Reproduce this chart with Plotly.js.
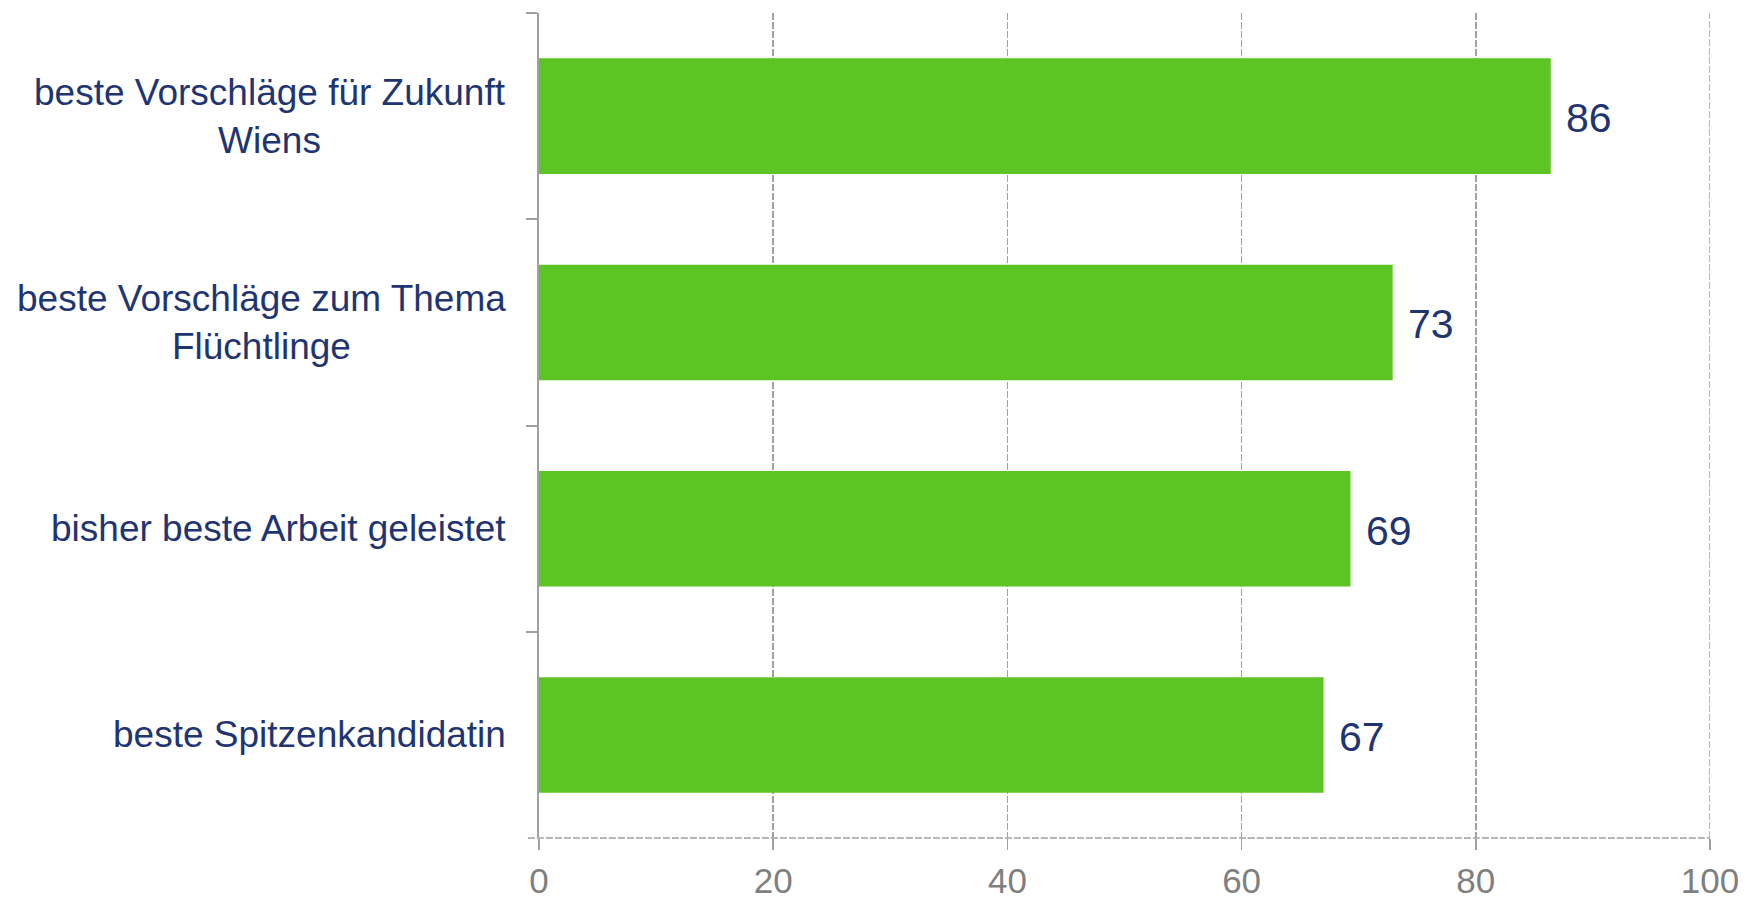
<!DOCTYPE html>
<html>
<head>
<meta charset="utf-8">
<script src="https://cdn.plot.ly/plotly-3.0.1.min.js"></script>
<style>html,body{margin:0;padding:0;background:#fff;}#chart{width:1759px;height:900px;}</style>
</head>
<body>
<div id="chart"></div>
<script>
// Categories, top to bottom
const categories = [
  "beste Vorschläge für Zukunft<br>Wiens",
  "beste Vorschläge zum Thema<br>Flüchtlinge",
  "bisher beste Arbeit geleistet",
  "beste Spitzenkandidatin"
];
const values = [86.4, 72.9, 69.3, 67.0];
const valueLabels = ["86", "73", "69", "67"];
const xTicks = [0, 20, 40, 60, 80, 100];
const xMax = 100;

const BAR_COLOR = "#5cc524";
const TEXT_BLUE = "#1f3572";
const GRID = "#a0a0a0";
const FONT = "Liberation Sans, Arial, sans-serif";

const trace = {
  type: "bar",
  orientation: "h",
  x: values,
  y: categories,
  marker: {color: BAR_COLOR},
  hoverinfo: "skip"
};

const annotations = [];
categories.forEach((c, i) => {
  annotations.push({
    xref: "paper", yref: "y", x: 0, y: c,
    xanchor: "right", yanchor: "middle", xshift: -31,
    text: c, showarrow: false, align: "center",
    font: {family: FONT, size: 37, color: TEXT_BLUE}
  });
  annotations.push({
    xref: "x", yref: "y", x: values[i], y: c,
    xanchor: "left", yanchor: "middle", xshift: 13, yshift: -2,
    text: valueLabels[i], showarrow: false,
    font: {family: FONT, size: 41, color: TEXT_BLUE}
  });
});

const layout = {
  width: 1759, height: 900,
  margin: {l: 539, r: 49, t: 13, b: 62},
  paper_bgcolor: "#ffffff", plot_bgcolor: "#ffffff",
  showlegend: false,
  bargap: 0.44,
  font: {family: FONT},
  xaxis: {
    range: [0, xMax],
    tickvals: xTicks,
    ticktext: xTicks.map(String),
    showgrid: true, gridcolor: GRID, gridwidth: 1.5, griddash: "7px,2px",
    zeroline: false, showline: false,
    ticks: "outside", ticklen: 11, tickcolor: GRID, tickwidth: 1.5,
    tickfont: {family: FONT, size: 35, color: "#7f7f7f"},
    ticklabelstandoff: 1,
    fixedrange: true
  },
  yaxis: {
    type: "category",
    categoryorder: "array", categoryarray: categories,
    autorange: "reversed",
    showticklabels: false,
    showgrid: false, zeroline: false,
    showline: true, linecolor: GRID, linewidth: 2,
    ticks: "outside", tickson: "boundaries", ticklen: 11, tickcolor: GRID, tickwidth: 2,
    fixedrange: true
  },
  shapes: [
    {
      type: "line", xref: "paper", yref: "paper",
      x0: -0.0095, x1: 1, y0: 0, y1: 0,
      line: {color: GRID, width: 1.5, dash: "7px,2px"}
    },
    {
      type: "line", xref: "x", yref: "paper",
      x0: xMax, x1: xMax, y0: 0, y1: 1,
      line: {color: GRID, width: 1.5, dash: "7px,2px"}
    }
  ],
  annotations: annotations
};

Plotly.newPlot("chart", [trace], layout, {displayModeBar: false, staticPlot: true});
</script>
</body>
</html>
